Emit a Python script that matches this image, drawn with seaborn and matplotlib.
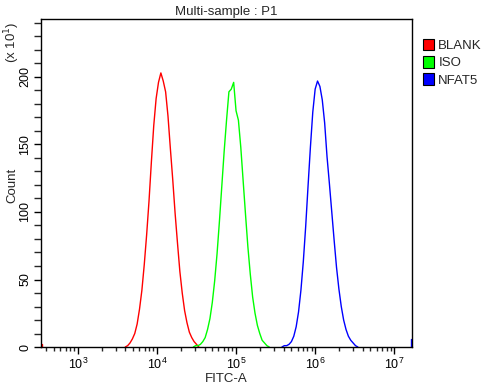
import numpy as np
import pandas as pd
import seaborn as sns
import matplotlib.pyplot as plt
import matplotlib.ticker as ticker
from matplotlib.patches import Patch

# histogram bins, log10(FITC-A) and counts (x10)
blank_log = [3.60, 3.63, 3.66, 3.69, 3.72, 3.75, 3.78, 3.81, 3.84, 3.87, 3.90,
             3.93, 3.96, 3.99, 4.02, 4.05, 4.08, 4.11, 4.14, 4.17, 4.20, 4.23, 4.26,
             4.29, 4.32, 4.35, 4.38, 4.41, 4.44, 4.47, 4.50, 4.53]
blank_count = [0, 1, 3, 6, 10, 17, 28, 42, 61, 83, 108,
               137, 164, 184, 196, 203, 197, 189, 171, 147, 124, 99, 77,
               56, 40, 27, 18, 11, 7, 4, 2, 0]

iso_log = [4.46, 4.49, 4.52, 4.55, 4.58, 4.61, 4.64, 4.67, 4.70, 4.73, 4.76, 4.79, 4.82,
           4.85, 4.88, 4.91, 4.94, 4.97, 5.00, 5.03, 5.06, 5.09, 5.12, 5.15,
           5.18, 5.21, 5.24, 5.27, 5.30, 5.33, 5.36, 5.39, 5.42]
iso_count = [0, 1, 1, 2, 4, 7, 13, 21, 33, 49, 69, 93, 119,
             145, 168, 189, 191, 196, 175, 168, 148, 123, 98, 74,
             54, 37, 25, 16, 10, 5, 3, 1, 0]

nfat5_log = [5.58, 5.61, 5.64, 5.67, 5.70, 5.73, 5.76, 5.79, 5.82, 5.85, 5.88, 5.91, 5.94,
             5.97, 6.00, 6.03, 6.06, 6.09, 6.12, 6.15, 6.18, 6.21, 6.24, 6.27,
             6.30, 6.33, 6.36, 6.39, 6.42, 6.45, 6.48, 6.51, 6.54]
nfat5_count = [0, 1, 1, 2, 4, 8, 15, 26, 42, 63, 89, 119, 148,
               174, 191, 197, 193, 183, 166, 141, 121, 100, 79, 59,
               43, 30, 20, 13, 8, 5, 3, 1, 0]

# off-scale events piled up in the first / last channel
blank_edge_log = [2.546, 2.546]
blank_edge_count = [0, 2]
nfat5_edge_log = [7.213, 7.213]
nfat5_edge_count = [0, 6]

samples = ['BLANK', 'ISO', 'NFAT5']
colors = ['#ff0000', '#00ff00', '#0000ff']

parts = [('BLANK', 'blank', blank_log, blank_count),
         ('BLANK', 'blank_edge', blank_edge_log, blank_edge_count),
         ('ISO', 'iso', iso_log, iso_count),
         ('NFAT5', 'nfat5', nfat5_log, nfat5_count),
         ('NFAT5', 'nfat5_edge', nfat5_edge_log, nfat5_edge_count)]
df = pd.concat([pd.DataFrame({'FITC-A': 10 ** np.array(lg), 'Count': cnt,
                              'sample': name, 'seg': seg})
                for name, seg, lg, cnt in parts], ignore_index=True)

sns.set_style('ticks')
plt.rcParams['font.family'] = ['Liberation Sans', 'DejaVu Sans']

fig = plt.figure(figsize=(5, 3.86), dpi=100)
ax = fig.add_axes([0.082, 0.101, 0.742, 0.850])

sns.lineplot(data=df, x='FITC-A', y='Count', hue='sample', units='seg',
             palette=dict(zip(samples, colors)), estimator=None, sort=False,
             lw=1.0, legend=False, ax=ax)

ax.set_xscale('log')
ax.set_xlim(10 ** 2.535, 10 ** 7.224)
ax.set_ylim(0, 243)
ax.xaxis.set_major_locator(ticker.LogLocator(base=10, numticks=10))
ax.xaxis.set_minor_locator(ticker.LogLocator(base=10, subs=np.arange(2, 10), numticks=20))
ax.yaxis.set_minor_locator(ticker.MultipleLocator(10))
ax.set_yticks([0, 50, 100, 150, 200])
ax.set_yticklabels(['0', '50', '100', '150', '200'], rotation=90, va='center')

for s in ax.spines.values():
    s.set_linewidth(1.0)
    s.set_color('black')
ax.tick_params(axis='both', which='major', direction='out', length=5, width=1,
               labelsize=9, colors='black', pad=2)
ax.tick_params(axis='both', which='minor', direction='out', length=3, width=1)
ax.tick_params(axis='y', which='minor', length=5)

ax.set_xlabel('')
ax.set_ylabel('')
fig.text(0.452, 0.969, 'Multi-sample : P1', ha='center', va='center', fontsize=9.5)
fig.text(0.452, 0.017, 'FITC-A', ha='center', va='center', fontsize=9.5)
fig.text(0.024, 0.52, 'Count', rotation=90, ha='center', va='center', fontsize=9.5)
fig.text(0.024, 0.89, '(x 10$^{1}$)', rotation=90, ha='center', va='center', fontsize=9.5)

handles = [Patch(facecolor=c, edgecolor='black', lw=0.8) for c in colors]
fig.legend(handles, samples, loc='upper left', bbox_to_anchor=(0.845, 0.90), frameon=False,
           fontsize=9.5, handlelength=0.9, handleheight=1.0, handletextpad=0.3,
           labelspacing=0.3, borderaxespad=0, borderpad=0)

plt.savefig('out.png', dpi=100)
